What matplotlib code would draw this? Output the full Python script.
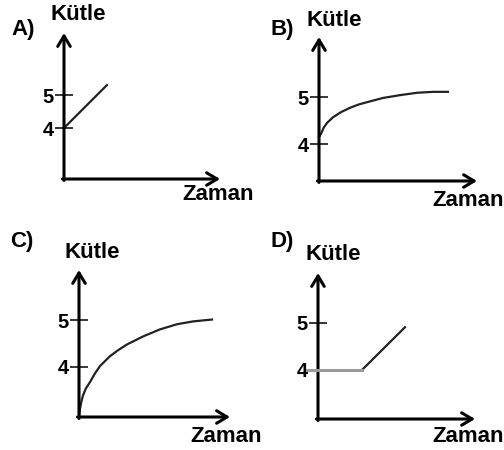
import matplotlib
matplotlib.use("Agg")
import matplotlib.pyplot as plt

plt.rcParams['font.family'] = ['Liberation Sans', 'DejaVu Sans']

W, H = 504, 450

# values (time in arbitrary units 0..10, mass)
a_time = [0.0, 2.75]
a_mass = [4.0, 5.3]

b_time = [0.0, 0.13, 0.30, 0.51, 0.89, 1.40, 1.96, 2.50, 3.04, 4.05, 5.13, 6.20, 7.22, 8.16]
b_mass = [4.15, 4.22, 4.35, 4.45, 4.57, 4.68, 4.77, 4.84, 4.89, 4.98, 5.04, 5.09, 5.11, 5.11]

c_time = [0.0, 0.03, 0.07, 0.15, 0.26, 0.45, 0.73, 1.05, 1.39, 2.05, 2.60, 3.18, 4.24, 5.36, 6.49, 7.55, 8.81]
c_mass = [2.94, 3.02, 3.12, 3.25, 3.39, 3.54, 3.68, 3.86, 4.02, 4.23, 4.36, 4.48, 4.65, 4.80, 4.91, 4.97, 5.01]

d_flat_time = [-0.70, 2.80]
d_flat_mass = [4.0, 4.0]
d_rise_time = [2.80, 5.54]
d_rise_mass = [4.0, 4.91]

tick_vals = [4, 5]
tick_labels = ['4', '5']

# panel layout in pixels: y-axis x, x-axis y, x arrow tip, y arrow tip
panels = {
    'A': dict(box=(64, 179, 220, 33), ylim=(2.455, 6.879)),
    'B': dict(box=(319, 181, 477, 37), ylim=(3.213, 6.277)),
    'C': dict(box=(79, 417, 230, 270), ylim=(2.936, 6.064)),
    'D': dict(box=(318, 419, 475, 273), ylim=(2.957, 6.064)),
}

# label positions (pixel centres): letter, Kütle, Zaman
labels = {
    'A': [(23, 30), (78, 15), (218, 194)],
    'B': [(282, 29), (334, 21), (468, 200)],
    'C': [(22, 242), (92, 253), (226, 437)],
    'D': [(282, 241), (333, 255), (468, 437)],
}

fig = plt.figure(figsize=(W / 100, H / 100), dpi=100)


def make_axes(key):
    x0, yb, xt, yt = panels[key]['box']
    ax = fig.add_axes([x0 / W, 1 - yb / H, (xt - x0) / W, (yb - yt) / H])
    ax.set_xlim(0, 10)
    ax.set_ylim(*panels[key]['ylim'])
    ax.patch.set_visible(False)
    for s in ax.spines.values():
        s.set_visible(False)
    ax.set_xticks([])
    ax.set_yticks(tick_vals)
    ax.set_yticklabels(tick_labels, fontsize=14.5, fontweight='bold')
    ax.tick_params(axis='y', direction='inout', length=13.5, width=1.1, pad=0.5)
    arrow = dict(arrowstyle='->,head_length=0.75,head_width=0.45', lw=2.2,
                 color='black', shrinkA=0, shrinkB=0)
    ax.annotate('', xy=(1, 0), xytext=(-0.01, 0), xycoords='axes fraction',
                arrowprops=arrow)
    ax.annotate('', xy=(0, 1), xytext=(0, -0.01), xycoords='axes fraction',
                arrowprops=arrow)
    for txt, (px, py) in zip([key + ')', 'Kütle', 'Zaman'], labels[key]):
        fig.text(px / W, 1 - py / H, txt, fontsize=16, fontweight='bold',
                 ha='center', va='center')
    return ax


ax = make_axes('A')
ax.plot(a_time, a_mass, color='#222222', lw=1.6, clip_on=False)

ax = make_axes('B')
ax.plot(b_time, b_mass, color='#222222', lw=1.6, clip_on=False)

ax = make_axes('C')
ax.plot(c_time, c_mass, color='#222222', lw=1.6, clip_on=False)

ax = make_axes('D')
ax.plot(d_flat_time, d_flat_mass, color='#9a9a9a', lw=2.2, clip_on=False, zorder=3)
ax.plot(d_rise_time, d_rise_mass, color='#222222', lw=1.6, clip_on=False)

fig.savefig('out.png', dpi=100)
